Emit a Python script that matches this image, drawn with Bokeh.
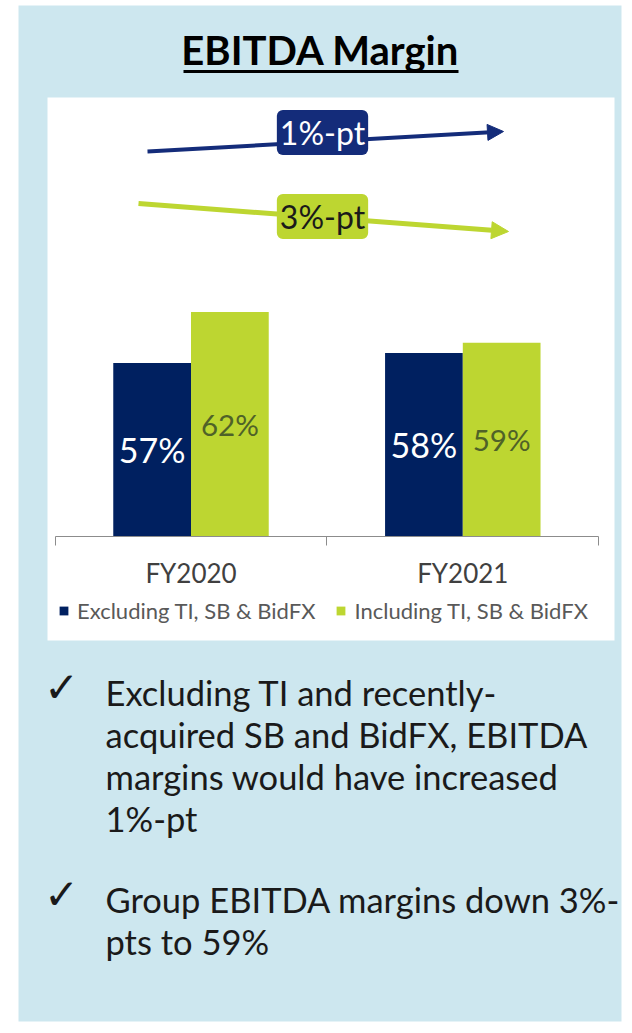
from bokeh.plotting import figure
from bokeh.models import (Range1d, LinearAxis, FixedTicker, Legend, LegendItem,
                          Arrow, NormalHead, Label, ColumnDataSource)
from bokeh.core.properties import value
from bokeh.embed import file_html
from bokeh.resources import INLINE

# ---------------- data ----------------
categories = ["FY2020", "FY2021"]
excl_values = [57, 58]
incl_values = [62, 59]
series_names = ["Excluding TI, SB & BidFX", "Including TI, SB & BidFX"]
axis_floor = 40
change_labels = ["1%-pt", "3%-pt"]
title_text = "EBITDA Margin"
bullet_1 = ["Excluding TI and recently-", "acquired SB and BidFX, EBITDA",
            "margins would have increased", "1%-pt"]
bullet_2 = ["Group EBITDA margins down 3%-", "pts to 59%"]

# ---------------- styles ----------------
PANEL = "#cde7ef"
NAVY = "#002060"
GREEN = "#bdd631"
OLIVE = "#4f6228"
ARROW_NAVY = "#142c7a"
AXIS_C = "#8c8c8c"
TEXT_C = "#1a1a1a"
FONT = "Lato"

W, H = 630, 1030
# pixel geometry of the chart scale
X0_PX, UNIT_PX = 54.6, 271.8     # x of first category boundary, px per category
BASE_PX, PCT_PX = 536.0, 10.2     # y of the axis floor, px per percentage point


def X(px):
    return 0.5 + (px - X0_PX) / UNIT_PX


def Y(py):
    return axis_floor + (BASE_PX - py) / PCT_PX


p = figure(width=W, height=H,
           x_range=Range1d(X(0), X(W)), y_range=Range1d(Y(H), Y(0)),
           output_backend="svg", toolbar_location=None, min_border=0,
           x_axis_location=None, y_axis_location=None,
           outline_line_color=None, background_fill_color="white",
           border_fill_color="white")
p.grid.visible = False

# panels
p.quad(left=X(18), right=X(621), top=Y(5), bottom=Y(1021),
       fill_color=PANEL, line_color=None)
p.quad(left=X(47), right=X(614), top=Y(97), bottom=Y(640),
       fill_color="white", line_color=None)

# title
p.text(x=[X(320)], y=[Y(49)], text=[title_text], text_font=value(FONT),
       text_font_style="bold", text_font_size="40px", text_align="center",
       text_baseline="middle", text_color="black")
p.segment(x0=[X(183)], x1=[X(458)], y0=[Y(71)], y1=[Y(71)],
          line_width=3, line_color="black")

# bars
n = len(categories)
bar_w = 0.286
src = ColumnDataSource(dict(
    cat=categories,
    x_excl=[i + 1 - bar_w / 2 for i in range(n)],
    x_incl=[i + 1 + bar_w / 2 for i in range(n)],
    excl=excl_values,
    incl=incl_values,
    excl_mid=[(axis_floor + v) / 2 for v in excl_values],
    incl_mid=[(axis_floor + v) / 2 for v in incl_values],
    excl_lbl=[f"{v}%" for v in excl_values],
    incl_lbl=[f"{v}%" for v in incl_values],
))
r1 = p.vbar(x="x_excl", top="excl", bottom=axis_floor, width=bar_w,
            fill_color=NAVY, line_color=None, source=src)
r2 = p.vbar(x="x_incl", top="incl", bottom=axis_floor, width=bar_w,
            fill_color=GREEN, line_color=None, source=src)

p.text(x="x_excl", y="excl_mid", text="excl_lbl", source=src,
       text_font=value(FONT), text_font_size="34px", text_color="white",
       text_align="center", text_baseline="middle")
p.text(x="x_incl", y="incl_mid", text="incl_lbl", source=src,
       text_font=value(FONT), text_font_size="29.5px", text_color=OLIVE,
       text_align="center", text_baseline="middle")

# category axis with ticks between categories
ax = LinearAxis(
    fixed_location=axis_floor,
    ticker=FixedTicker(ticks=[i + 1 for i in range(n)],
                       minor_ticks=[i + 0.5 for i in range(n + 1)]),
    bounds=(0.5, n + 0.5),
    major_label_overrides={i + 1: c for i, c in enumerate(categories)},
    major_tick_line_color=None, major_tick_in=0, major_tick_out=0,
    minor_tick_in=0, minor_tick_out=9, minor_tick_line_color=AXIS_C,
    axis_line_color=AXIS_C, axis_line_width=1,
    major_label_text_font=FONT, major_label_text_font_size="26px",
    major_label_text_color="#404040", major_label_standoff=11,
)
p.add_layout(ax, "below")

# change arrows with boxed labels
p.add_layout(Arrow(x_start=X(147), y_start=Y(151), x_end=X(503), y_end=Y(131),
                   line_color=ARROW_NAVY, line_width=4,
                   end=NormalHead(size=16, fill_color=ARROW_NAVY, line_color=ARROW_NAVY)))
p.add_layout(Arrow(x_start=X(138), y_start=Y(203), x_end=X(508), y_end=Y(231),
                   line_color=GREEN, line_width=5,
                   end=NormalHead(size=17, fill_color=GREEN, line_color=GREEN)))
p.add_layout(Label(x=X(322), y=Y(132), text=change_labels[0], text_align="center",
                   text_baseline="middle", text_font=FONT, text_font_size="32px",
                   text_color="white", background_fill_color=ARROW_NAVY,
                   border_radius=6, padding=3))
p.add_layout(Label(x=X(322), y=Y(216), text=change_labels[1], text_align="center",
                   text_baseline="middle", text_font=FONT, text_font_size="32px",
                   text_color=TEXT_C, background_fill_color=GREEN,
                   border_radius=6, padding=3))

# legend
legend = Legend(items=[LegendItem(label=series_names[0], renderers=[r1]),
                       LegendItem(label=series_names[1], renderers=[r2])],
                orientation="horizontal", location=(58, H - 624),
                glyph_width=11, glyph_height=11, label_standoff=8, spacing=20,
                padding=0, margin=0, background_fill_alpha=0, border_line_alpha=0,
                label_text_font=FONT, label_text_font_size="22px",
                label_text_color="#595959", label_height=24)
p.add_layout(legend)

# bullets
LINE_H = 42
for start, lines in ((704, bullet_1), (911, bullet_2)):
    p.text(x=[X(61)], y=[Y(start - 17)], text=["\u2713"], text_font=value("DejaVu Sans"),
           text_font_size="42px", text_color=TEXT_C, text_baseline="middle",
           text_align="center")
    p.text(x=[X(105)] * len(lines),
           y=[Y(start - 12 + i * LINE_H) for i in range(len(lines))],
           text=lines, text_font=value(FONT), text_font_size="34.5px",
           text_color=TEXT_C, text_baseline="middle")

open("out.html", "w").write(file_html(p, INLINE))
